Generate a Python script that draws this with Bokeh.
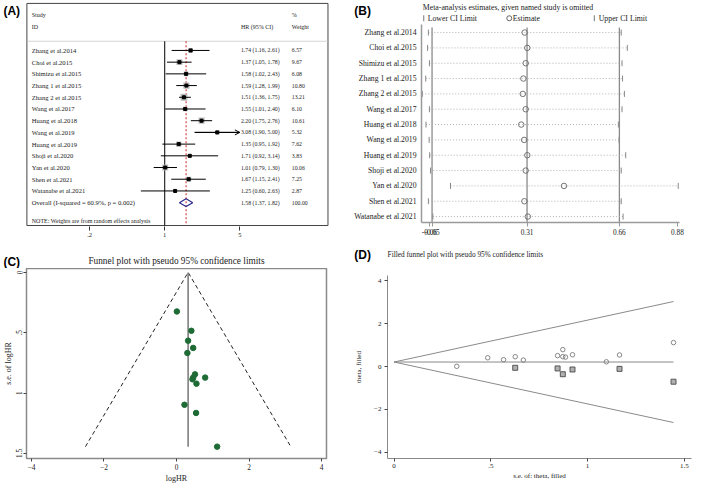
import numpy as np
from bokeh.plotting import figure
from bokeh.models import Range1d, FixedTicker, ColumnDataSource, Arrow, OpenHead, Grid
from bokeh.layouts import row, column
from bokeh.core.properties import value
from bokeh.embed import file_html
from bokeh.resources import INLINE

# ---------------- data ----------------
studies = ["Zhang et al.2014", "Choi et al.2015", "Shimizu et al.2015", "Zhang 1 et al.2015",
           "Zhang 2 et al.2015", "Wang et al.2017", "Huang et al.2018", "Wang et al.2019",
           "Huang et al.2019", "Shoji et al.2020", "Yan et al.2020", "Shen et al.2021",
           "Watanabe et al.2021"]
hr = [1.74, 1.37, 1.58, 1.59, 1.51, 1.55, 2.20, 3.08, 1.35, 1.71, 1.01, 1.67, 1.25]
hr_lo = [1.16, 1.05, 1.02, 1.28, 1.36, 1.01, 1.75, 1.90, 0.95, 0.92, 0.79, 1.15, 0.60]
hr_hi = [2.61, 1.78, 2.43, 1.99, 1.75, 2.40, 2.76, 5.00, 1.92, 3.14, 1.30, 2.41, 2.63]
weights = [6.57, 9.67, 6.08, 10.80, 13.21, 6.10, 10.61, 5.32, 7.62, 3.83, 10.06, 7.25, 2.87]
overall_hr = [1.58, 1.37, 1.82]          # estimate, lower, upper
overall_label = "Overall  (I-squared = 60.9%, p = 0.002)"
null_hr = 1.0
forest_ticks = [0.2, 1, 5]
forest_tick_labels = [".2", "1", "5"]

# leave-one-out (panel B)
loo_lower = [-0.064, -0.067, -0.060, -0.074, -0.087, -0.060, -0.073, -0.061, -0.059, -0.056, 0.020, -0.064, -0.047]
loo_est = [0.301, 0.311, 0.305, 0.296, 0.294, 0.305, 0.288, 0.299, 0.311, 0.305, 0.450, 0.300, 0.313]
loo_upper = [0.667, 0.690, 0.670, 0.672, 0.679, 0.670, 0.656, 0.659, 0.684, 0.667, 0.883, 0.667, 0.674]
loo_overall = [-0.05, 0.31, 0.66]
loo_ticks = [-0.06, -0.05, 0.31, 0.66, 0.88]

# funnel (panels C and D)
log_hr = [0.55, 0.32, 0.46, 0.46, 0.41, 0.44, 0.79, 1.12, 0.30, 0.54, 0.01, 0.51, 0.22]
se_log_hr = [0.922, 0.566, 0.872, 0.626, 0.484, 0.886, 0.872, 1.444, 0.668, 1.165, 0.324, 0.845, 1.097]
funnel_pooled = 0.32
filled_pooled = 0.21
filled_se = [0.626, 0.845, 0.872, 0.922, 1.165, 1.444]
filled_theta = [-0.06, -0.09, -0.36, -0.14, -0.11, -0.71]
c_xticks = [-4, -2, 0, 2, 4]
c_yticks = [0, 0.5, 1, 1.5]
c_ytick_labels = ["0", ".5", "1", "1.5"]
d_xticks = [0, 0.5, 1, 1.5]
d_xtick_labels = ["0", ".5", "1", "1.5"]
d_yticks = [-4, -2, 0, 2, 4]

# ---------------- helpers ----------------
SX, SY = 0.977, 0.968
SERIF = "Liberation Serif"
SANS = "Liberation Sans"
INK = "#222222"


def make_fig(region, frame, xr, yr, **kw):
    rx0, ry0, rx1, ry1 = region
    fx0, fy0, fx1, fy1 = frame
    w = round(rx1 * SX) - round(rx0 * SX)
    h = round(ry1 * SY) - round(ry0 * SY)
    p = figure(width=w, height=h, x_range=xr, y_range=yr, output_backend="svg",
               toolbar_location=None, title=None,
               min_border_left=round((fx0 - rx0) * SX), min_border_right=round((rx1 - fx1) * SX),
               min_border_top=round((fy0 - ry0) * SY), min_border_bottom=round((ry1 - fy1) * SY),
               **kw)
    try:
        p.frame_align = False
    except Exception:
        pass
    for r in list(p.center):
        if isinstance(r, Grid):
            r.visible = False
    p.background_fill_color = "white"
    p.border_fill_color = "white"
    return p


def make_strip(region):
    rx0, ry0, rx1, ry1 = region
    p = make_fig(region, region, Range1d(rx0, rx1), Range1d(start=ry1, end=ry0),
                 x_axis_location=None, y_axis_location=None)
    p.outline_line_color = None
    return p


def gtext(p, xs, ys, texts, size, font=SERIF, style="normal", align="left", color=INK, angle=0.0):
    p.text(x=xs, y=ys, text=texts, text_font=value(font), text_font_size=f"{size}px",
           text_font_style=value(style), text_align=align, text_baseline="middle",
           text_color=color, angle=angle)


def style_axis(ax, size=7.2, color="#555555", tick_color="#444444"):
    ax.axis_line_color = color
    ax.major_tick_line_color = tick_color
    ax.major_tick_in = 0
    ax.major_tick_out = 3
    ax.minor_tick_line_color = None
    ax.major_label_text_font = SERIF
    ax.major_label_text_font_size = f"{size}px"
    ax.major_label_text_color = INK
    ax.axis_label_text_font = SERIF
    ax.axis_label_text_font_style = "normal"
    ax.axis_label_text_color = INK
    ax.major_label_standoff = 3
    ax.axis_label_standoff = 2


n = len(studies)
rows_idx = np.arange(n)

# ================= Panel A: forest plot =================
A_region = (0, 0, 356, 255)
A_frame = (0, 0, 356, 233)
A_box = (27, 3, 335, 232)
A_x0 = 168.0   # reference pixel of HR = 1
A_ppd = 110.0  # pixels per decade


def lx(X):
    return 10 ** ((X - A_x0) / A_ppd)


A_row0, A_step = 51.5, 12.07


def arow(Y):
    return (Y - A_row0) / A_step


pA = make_fig(A_region, A_frame,
              Range1d(lx(A_frame[0]), lx(A_frame[2])),
              Range1d(start=arow(A_frame[3]), end=arow(A_frame[1])),
              x_axis_type="log", y_axis_location=None)
pA.outline_line_color = None
axA = pA.xaxis[0]
style_axis(axA, size=6.5, color=None, tick_color="#333333")
axA.major_tick_out = 4
axA.major_label_standoff = 2
axA.ticker = FixedTicker(ticks=forest_ticks)
axA.major_label_overrides = {t: l for t, l in zip(forest_ticks, forest_tick_labels)}

pA.quad(left=[lx(A_box[0])], right=[lx(A_box[2])], top=[arow(A_box[1])], bottom=[arow(A_box[3])],
        fill_color=None, line_color="#444444", line_width=1)
sep_row = arow(42)
bottom_row = arow(A_box[3])
pA.segment(x0=[lx(A_box[0])], y0=[sep_row], x1=[lx(A_box[2])], y1=[sep_row],
           line_color="#c8c8c8", line_width=0.8)
pA.segment(x0=[null_hr], y0=[sep_row], x1=[null_hr], y1=[bottom_row], line_color="black", line_width=1)
pA.segment(x0=[overall_hr[0]], y0=[sep_row], x1=[overall_hr[0]], y1=[bottom_row],
           line_color="#d02020", line_width=1, line_dash="2 2")

pA.scatter(hr, rows_idx, marker="square", size=np.sqrt(weights) * 1.9,
           fill_color="#bdbdbd", line_color=None)
pA.segment(x0=hr_lo, y0=rows_idx, x1=hr_hi, y1=rows_idx, line_color="black", line_width=1)
clip = [i for i in range(n) if hr_hi[i] >= forest_ticks[-1]]
if clip:
    asrc = ColumnDataSource(dict(x0=[hr_lo[i] for i in clip], x1=[hr_hi[i] for i in clip],
                                 y=[float(i) for i in clip]))
    pA.add_layout(Arrow(x_start="x0", y_start="y", x_end="x1", y_end="y", source=asrc,
                        line_color="black", line_width=1,
                        end=OpenHead(size=5, line_color="black", line_width=1)))
pA.scatter(hr, rows_idx, marker="square", size=3, fill_color="black", line_color="black")

ov_row = float(n)
pA.patch(x=[overall_hr[1], overall_hr[0], overall_hr[2], overall_hr[0]],
         y=[ov_row, ov_row - 0.33, ov_row, ov_row + 0.33],
         fill_color=None, line_color="#2a2a8c", line_width=1.2)

col_study, col_hr, col_w = lx(32), lx(246), lx(298)
gtext(pA, [col_study] * n, rows_idx, studies, 6.6)
gtext(pA, [col_hr] * n, rows_idx, [f"{h:.2f} ({l:.2f}, {u:.2f})" for h, l, u in zip(hr, hr_lo, hr_hi)], 5.8)
gtext(pA, [col_w] * n, rows_idx, [f"{w:.2f}" for w in weights], 5.8)
gtext(pA, [col_study], [ov_row], [overall_label], 6.6)
gtext(pA, [col_hr], [ov_row], [f"{overall_hr[0]:.2f} ({overall_hr[1]:.2f}, {overall_hr[2]:.2f})"], 5.8)
gtext(pA, [col_w], [ov_row], ["100.00"], 5.8)
gtext(pA, [col_study, col_study, col_w, col_hr, col_w], [arow(15), arow(27), arow(15), arow(27), arow(27)],
      ["Study", "ID", "%", "HR (95% CI)", "Weight"], 6.0)
gtext(pA, [col_study], [arow(227)], ["NOTE: Weights are from random effects analysis"], 6.0)
gtext(pA, [lx(3)], [arow(11)], ["(A)"], 12, font=SANS, style="bold", color="black")

# ================= Panel B: leave-one-out =================
B_head = make_strip((356, 0, 709, 25))
gtext(B_head, [362], [11], ["(B)"], 12, font=SANS, style="bold", color="black")
gtext(B_head, [432], [7.5], ["Meta-analysis estimates, given named study is omitted"], 7.8)
B_head.scatter([433, 607.5], [18.5, 18.5], marker="dash", angle=np.pi / 2, size=6,
               line_color="#777777", line_width=1)
B_head.scatter([520.5], [18.5], marker="circle", size=5, fill_color=None, line_color="#555555", line_width=0.9)
gtext(B_head, [437, 524, 612], [18.5, 18.5, 18.5], ["Lower CI Limit", "Estimate", "Upper CI Limit"], 7.8)

B_region = (356, 25, 709, 255)
B_frame = (431, 25, 695, 229)
B_ppu = 270.0
B_c = 539.0


def bx(X):
    return 0.31 + (X - B_c) / B_ppu


B_row0, B_step = 33.3, 15.8
pB = make_fig(B_region, B_frame, Range1d(bx(B_frame[0]), bx(B_frame[2])),
              Range1d(start=(B_frame[3] - B_row0) / B_step, end=(B_frame[1] - B_row0) / B_step))
pB.outline_line_color = None
axBy = pB.yaxis[0]
style_axis(axBy, size=7.7, color="#9a9a9a")
axBy.axis_line_width = 1.5
axBy.major_tick_out = 0
axBy.major_tick_line_color = None
axBy.major_label_standoff = 5
axBy.ticker = FixedTicker(ticks=list(range(n)))
axBy.major_label_overrides = {i: s for i, s in enumerate(studies)}
axBx = pB.xaxis[0]
style_axis(axBx, size=7.3, color="#9a9a9a", tick_color="#9a9a9a")
axBx.axis_line_width = 1.5
axBx.major_tick_out = 4
axBx.major_label_standoff = 2
axBx.ticker = FixedTicker(ticks=loo_ticks)
axBx.major_label_overrides = {t: f"{t:.2f}" for t in loo_ticks}

y_top_b = (B_frame[1] + 3 - B_row0) / B_step
y_bot_b = (B_frame[3] - B_row0) / B_step
pB.segment(x0=loo_overall, y0=[y_top_b] * 3, x1=loo_overall, y1=[y_bot_b] * 3,
           line_color="#8a8a8a", line_width=1.3)
pB.segment(x0=loo_lower, y0=rows_idx, x1=loo_upper, y1=rows_idx, line_color="#b0b0b0",
           line_width=1, line_dash="1 2")
pB.scatter(loo_lower, rows_idx, marker="dash", angle=np.pi / 2, size=6, line_color="#888888", line_width=1)
pB.scatter(loo_upper, rows_idx, marker="dash", angle=np.pi / 2, size=6, line_color="#888888", line_width=1)
pB.scatter(loo_est, rows_idx, marker="circle", size=5.5, fill_color=None, line_color="#666666", line_width=0.9)

# ================= Panel C: funnel plot =================
C_head = make_strip((0, 255, 356, 277))
gtext(C_head, [3], [270], ["(C)"], 12, font=SANS, style="bold", color="black")
gtext(C_head, [180], [269.5], ["Funnel plot with pseudo 95% confidence limits"], 9.3, align="center")

C_region = (0, 277, 356, 501)
C_frame = (27, 277, 333, 473)
C_x0, C_ppu = 180.0, 37.0
C_y0, C_ppuy = 281.0, 124.5
pC = make_fig(C_region, C_frame,
              Range1d((C_frame[0] - C_x0) / C_ppu, (C_frame[2] - C_x0) / C_ppu),
              Range1d(start=(C_frame[3] - C_y0) / C_ppuy, end=(C_frame[1] - C_y0) / C_ppuy))
pC.outline_line_color = "#8a8a8a"
pC.outline_line_width = 1.5
axCx = pC.xaxis[0]
style_axis(axCx, size=7.3, color="#8a8a8a")
axCx.ticker = FixedTicker(ticks=c_xticks)
axCx.axis_label = "logHR"
axCx.axis_label_text_font_size = "8px"
axCx.major_label_standoff = 2
axCx.axis_label_standoff = 1
axCy = pC.yaxis[0]
style_axis(axCy, size=7.3, color="#8a8a8a")
axCy.ticker = FixedTicker(ticks=c_yticks)
axCy.major_label_overrides = {t: l for t, l in zip(c_yticks, c_ytick_labels)}
axCy.major_label_orientation = "vertical"
axCy.axis_label = "s.e. of logHR"
axCy.axis_label_text_font_size = "8px"
axCy.major_label_standoff = 1
axCy.axis_label_standoff = 1

se_max = max(se_log_hr)
pC.line([funnel_pooled - 1.96 * se_max, funnel_pooled, funnel_pooled + 1.96 * se_max],
        [se_max, 0, se_max], line_color="#222222", line_width=1, line_dash="4 3")
pC.segment(x0=[funnel_pooled], y0=[0], x1=[funnel_pooled], y1=[se_max], line_color="#777777", line_width=1.5)
pC.scatter(log_hr, se_log_hr, marker="circle", size=5.5, fill_color="#1e6b35", line_color="#1e6b35")

# ================= Panel D: filled funnel =================
D_head = make_strip((356, 255, 709, 284))
gtext(D_head, [362], [263], ["(D)"], 12, font=SANS, style="bold", color="black")
gtext(D_head, [396], [262.5], ["Filled funnel plot with pseudo 95% confidence limits"], 7.3)

D_region = (356, 284, 709, 501)
D_frame = (396, 284, 707, 473)
D_x0, D_ppu = 402.7, 198.0
D_y0, D_ppuy = 378.0, 22.08
pD = make_fig(D_region, D_frame,
              Range1d((D_frame[0] - D_x0) / D_ppu, (D_frame[2] - D_x0) / D_ppu),
              Range1d((D_y0 - D_frame[3]) / D_ppuy, (D_y0 - D_frame[1]) / D_ppuy))
pD.outline_line_color = None
axDx = pD.xaxis[0]
style_axis(axDx, size=7.0, color="#8a8a8a")
axDx.ticker = FixedTicker(ticks=d_xticks)
axDx.major_label_overrides = {t: l for t, l in zip(d_xticks, d_xtick_labels)}
axDx.axis_label = "s.e. of: theta, filled"
axDx.axis_label_text_font_size = "7px"
axDx.major_label_standoff = 2
axDx.axis_label_standoff = 1
axDy = pD.yaxis[0]
style_axis(axDy, size=7.0, color="#8a8a8a")
axDy.ticker = FixedTicker(ticks=d_yticks)
axDy.axis_label = "theta, filled"
axDy.axis_label_text_font_size = "7px"
axDy.axis_label_standoff = 8

se_max_d = max(se_log_hr + filled_se)
pD.line([se_max_d, 0, se_max_d],
        [filled_pooled + 1.96 * se_max_d, filled_pooled, filled_pooled - 1.96 * se_max_d],
        line_color="#8a8a8a", line_width=1)
pD.line([0, se_max_d], [filled_pooled, filled_pooled], line_color="#8a8a8a", line_width=1)
pD.scatter(se_log_hr, log_hr, marker="circle", size=4.5, fill_color=None, line_color="#7a7a7a", line_width=0.9)
pD.scatter(filled_se, filled_theta, marker="square", size=5, fill_color="#b0b0b0", line_color="#4a4a4a", line_width=0.9)

layout = column(
    row(pA, column(B_head, pB, spacing=0), spacing=0),
    row(column(C_head, pC, spacing=0), column(D_head, pD, spacing=0), spacing=0),
    spacing=0)
open("out.html", "w").write(file_html(layout, INLINE))
